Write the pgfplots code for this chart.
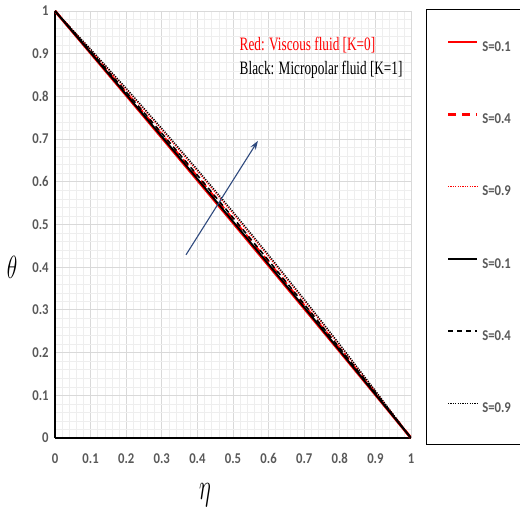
\documentclass[border=0pt]{standalone}
\usepackage{pgfplots}
\pgfplotsset{compat=1.18}
\usepackage{pgfplotstable}
\usetikzlibrary{arrows.meta}
\usepackage{fontspec}
\setmainfont{Liberation Serif}
\newfontfamily\carlito{Carlito}[BoldFont={Carlito Bold}]

\definecolor{tickgray}{HTML}{595959}
\definecolor{majgrid}{HTML}{D9D9D9}
\definecolor{mingrid}{HTML}{EEEEEE}
\definecolor{navy}{HTML}{2F4A7E}

% temperature profiles theta(eta); columns: viscous (K=0) and micropolar (K=1), S = 0.1, 0.4, 0.9
\pgfplotstableread{
eta  vA     vB     vC     mA     mB     mC
0.0  1.0000 1.0000 1.0000 1.0000 1.0000 1.0000
0.1  0.9014 0.9043 0.9094 0.9025 0.9058 0.9108
0.2  0.8026 0.8077 0.8166 0.8045 0.8102 0.8192
0.3  0.7034 0.7101 0.7218 0.7059 0.7134 0.7252
0.4  0.6038 0.6115 0.6250 0.6067 0.6154 0.6288
0.5  0.5040 0.5120 0.5260 0.5070 0.5160 0.5300
0.6  0.4038 0.4115 0.4250 0.4067 0.4154 0.4288
0.7  0.3034 0.3101 0.3218 0.3059 0.3134 0.3252
0.8  0.2026 0.2077 0.2166 0.2045 0.2102 0.2192
0.9  0.1014 0.1043 0.1094 0.1025 0.1058 0.1108
1.0  0.0000 0.0000 0.0000 0.0000 0.0000 0.0000
}\profiles

\begin{document}
\begin{tikzpicture}
\begin{axis}[
  name=ax,
  scale only axis, width=356bp, height=427bp,
  xmin=0, xmax=1, ymin=0, ymax=1,
  xtick={0,0.1,0.2,0.3,0.4,0.5,0.6,0.7,0.8,0.9,1},
  ytick={0,0.1,0.2,0.3,0.4,0.5,0.6,0.7,0.8,0.9,1},
  minor tick num=4,
  grid=both,
  major grid style={draw=majgrid, line width=0.8bp},
  minor grid style={draw=mingrid, line width=0.5bp},
  axis lines=left,
  axis line style={-, black, line width=1.8bp},
  major tick length=0pt, minor tick length=0pt,
  /pgf/number format/assume math mode=true,
  ticklabel style={font=\carlito\bfseries\fontsize{15}{15}\selectfont, text=tickgray, xscale=0.85},
  xticklabel style={yshift=-12bp},
  yticklabel style={xshift=-4bp},
  legend style={
    at={(1.042,1.0047)}, anchor=north west,
    draw=black, line width=1.5bp,
    inner xsep=20bp, inner ysep=31bp, row sep=61.4bp,
    nodes={inner sep=0pt, text height=9bp, text depth=1bp, text width=40bp,
           font=\carlito\bfseries\fontsize{15}{15}\selectfont, text=tickgray, xscale=0.85},
    /tikz/every odd column/.append style={column sep=4bp},
  },
  legend cell align=left,
  legend image code/.code={\draw[#1] (0bp,5bp) -- (29bp,5bp);},
]
\addplot[red, line width=2.6bp] table[x=eta, y=vA] {\profiles};
\addlegendentry{S=0.1}
\addplot[red, line width=2.6bp, dash pattern=on 8bp off 6bp] table[x=eta, y=vB] {\profiles};
\addlegendentry{S=0.4}
\addplot[red, line width=1.2bp, dash pattern=on 1.2bp off 1.2bp] table[x=eta, y=vC] {\profiles};
\addlegendentry{S=0.9}
\addplot[black, line width=1.9bp] table[x=eta, y=mA] {\profiles};
\addlegendentry{S=0.1}
\addplot[black, line width=1.6bp, dash pattern=on 5bp off 4bp] table[x=eta, y=mB] {\profiles};
\addlegendentry{S=0.4}
\addplot[black, line width=1.2bp, dash pattern=on 1.2bp off 1.2bp] table[x=eta, y=mC] {\profiles};
\addlegendentry{S=0.9}

% direction of increasing S
\draw[navy, line width=1.1bp, -{Stealth[length=9bp,width=6bp]}] (axis cs:0.368,0.429) -- (axis cs:0.570,0.696);

\node[anchor=west, text=red, font=\fontsize{19}{19}\selectfont, xscale=0.7] at (axis cs:0.512,0.921) {Red: Viscous fluid [K=0]};
\node[anchor=west, text=black, font=\fontsize{19}{19}\selectfont, xscale=0.7] at (axis cs:0.512,0.862) {Black: Micropolar fluid [K=1]};
\end{axis}
% axis titles
\node[font=\fontsize{20}{20}\selectfont, xscale=1.05, yscale=1.55] at ([shift={(-43bp,171bp)}]ax.south west) {$\theta$};
\node[font=\fontsize{20}{20}\selectfont, xscale=1.1, yscale=1.8] at ([shift={(150bp,-57bp)}]ax.south west) {$\eta$};
\pgfresetboundingbox
\path[use as bounding box] ([shift={(-55bp,-73bp)}]ax.south west) rectangle ([shift={(465bp,438bp)}]ax.south west);
\end{tikzpicture}
\end{document}
